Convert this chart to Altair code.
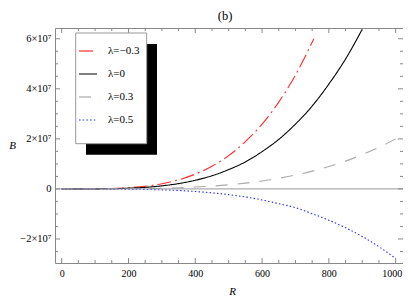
import altair as alt
import pandas as pd

# ---- data ----
names = ["λ=−0.3", "λ=0", "λ=0.3", "λ=0.5"]

R_red = [0, 50, 100, 150, 200, 250, 300, 350, 400, 450, 500, 550, 600, 650, 700, 755]
B_red = [0, 3.0e3, 3.7e4, 1.64e5, 4.7e5, 1.06e6, 2.07e6, 3.63e6, 5.9e6, 9.07e6,
         1.33e7, 1.89e7, 2.59e7, 3.47e7, 4.55e7, 6.0e7]

R_black = [0, 50, 100, 150, 200, 250, 300, 350, 400, 450, 500, 550, 600, 650, 700, 750, 800, 850, 900]
B_black = [0, 1.9e3, 2.35e4, 1.0e5, 2.85e5, 6.3e5, 1.23e6, 2.13e6, 3.46e6, 5.26e6,
           7.72e6, 1.08e7, 1.49e7, 1.98e7, 2.59e7, 3.31e7, 4.19e7, 5.19e7, 6.38e7]

R_gray = [0, 50, 100, 150, 200, 250, 300, 350, 400, 450, 500, 550, 600, 650, 700, 750, 800, 850, 900, 950, 1000]
B_gray = [0, 4e2, 5.0e3, 2.2e4, 6.1e4, 1.36e5, 2.6e5, 4.6e5, 7.4e5, 1.13e6, 1.65e6,
          2.32e6, 3.18e6, 4.24e6, 5.55e6, 7.1e6, 8.96e6, 1.11e7, 1.37e7, 1.66e7, 2.0e7]

R_blue = [0, 50, 100, 150, 200, 250, 300, 350, 400, 450, 500, 550, 600, 650, 700, 750, 800, 850, 900, 950, 1000]
B_blue = [0, -6e2, -7e3, -3.0e4, -8.5e4, -1.9e5, -3.6e5, -6.3e5, -1.03e6, -1.57e6, -2.29e6,
          -3.23e6, -4.42e6, -5.9e6, -7.5e6, -9.9e6, -1.25e7, -1.55e7, -1.9e7, -2.31e7, -2.78e7]

x_major = [0, 200, 400, 600, 800, 1000]
x_minor = [50, 100, 150, 250, 300, 350, 450, 500, 550, 650, 700, 750, 850, 900, 950]
y_major = [-2e7, 0, 2e7, 4e7, 6e7]
y_minor = [-2.5e7, -1.5e7, -1e7, -5e6, 5e6, 1e7, 1.5e7, 2.5e7, 3e7, 3.5e7, 4.5e7, 5e7, 5.5e7]

panel_label = "(b)"

# ---- styling ----
colors = ["#ff2a2a", "#000000", "#aaaaaa", "#2a2aff"]
dashes = [[14, 4, 2, 4], [1, 0], [12, 10], [1.5, 2.2]]
frame_c = "#888888"
W, H = 348, 235
SERIF = "Liberation Serif, Tinos, 'Times New Roman', serif"

rows = []
for nm, rs, bs in zip(names, [R_red, R_black, R_gray, R_blue], [B_red, B_black, B_gray, B_blue]):
    for r, b in zip(rs, bs):
        rows.append({"series": nm, "R": r, "B": b})
df = pd.DataFrame(rows)

xs = alt.Scale(domain=[-20, 1022], nice=False, zero=False)
ys = alt.Scale(domain=[-2.96e7, 6.43e7], nice=False, zero=False)

y_label_expr = ("datum.value == 0 ? '0' : (datum.value < 0 ? '−' : '') + "
                "format(abs(datum.value) / 1e7, 'd') + '×10⁷'")

x_axis = alt.Axis(
    values=x_major, format="d", title="R", domain=False, ticks=False, grid=False,
    labelFont=SERIF, labelFontSize=10, labelPadding=5, labelColor="black",
    labelOffset={"condition": {"test": "datum.value == 1000", "value": -4}, "value": 0},
    titleFont=SERIF, titleFontSize=11, titleFontStyle="italic", titleFontWeight="normal",
    titleColor="black", titleX=177, titleY=28, titleBaseline="middle", titleAlign="center")
y_axis = alt.Axis(
    values=y_major, title="B", domain=False, ticks=False, grid=False,
    labelExpr=y_label_expr, labelFont=SERIF, labelFontSize=10.5, labelPadding=4,
    labelColor="black",
    titleFont=SERIF, titleFontSize=11, titleFontStyle="italic", titleFontWeight="normal",
    titleColor="black", titleAngle=0, titleX=-43, titleY=117.5, titleBaseline="middle",
    titleAlign="center")

leg = alt.Legend(
    title=None, orient="none", legendX=23, legendY=13, symbolType="stroke",
    symbolSize=324, symbolStrokeWidth=1.2, labelFont=SERIF, labelFontSize=11,
    labelOffset=10, rowPadding=8, padding=0, labelColor="black",
)

lines = alt.Chart(df).mark_line(strokeWidth=1.1, interpolate="monotone").encode(
    x=alt.X("R:Q", scale=xs, axis=x_axis),
    y=alt.Y("B:Q", scale=ys, axis=y_axis),
    color=alt.Color("series:N", scale=alt.Scale(domain=names, range=colors), legend=leg),
    strokeDash=alt.StrokeDash("series:N", scale=alt.Scale(domain=names, range=dashes), legend=leg),
)

zero = alt.Chart(pd.DataFrame({"z": [0]})).mark_rule(color="#999999", strokeWidth=1).encode(
    y=alt.Y("z:Q", scale=ys, axis=y_axis)
)


def xticks(vals, L):
    d = pd.DataFrame({"v": vals})
    bot = alt.Chart(d).mark_rule(color=frame_c, strokeWidth=1).encode(
        x=alt.X("v:Q", scale=xs, axis=x_axis), y=alt.value(H), y2=alt.value(H - L))
    top = alt.Chart(d).mark_rule(color=frame_c, strokeWidth=1).encode(
        x=alt.X("v:Q", scale=xs, axis=x_axis), y=alt.value(0), y2=alt.value(L))
    return [bot, top]


def yticks(vals, L):
    d = pd.DataFrame({"v": vals})
    lft = alt.Chart(d).mark_rule(color=frame_c, strokeWidth=1).encode(
        y=alt.Y("v:Q", scale=ys, axis=y_axis), x=alt.value(0), x2=alt.value(L))
    rgt = alt.Chart(d).mark_rule(color=frame_c, strokeWidth=1).encode(
        y=alt.Y("v:Q", scale=ys, axis=y_axis), x=alt.value(W), x2=alt.value(W - L))
    return [lft, rgt]


one = pd.DataFrame({"a": [0]})
shadow = alt.Chart(one).mark_rect(color="black").encode(
    x=alt.value(31), x2=alt.value(102), y=alt.value(16), y2=alt.value(126.7))
box = alt.Chart(one).mark_rect(fill="white", stroke="#999999", strokeWidth=1).encode(
    x=alt.value(20.7), x2=alt.value(91.7), y=alt.value(5), y2=alt.value(115.7))
title_txt = alt.Chart(one).mark_text(
    text=panel_label, font=SERIF, fontSize=12.5, color="black", align="center", baseline="middle"
).encode(x=alt.value(170), y=alt.value(-12.5))

layers = [lines, zero] + xticks(x_major, 5) + xticks(x_minor, 3) + yticks(y_major, 5) + yticks(y_minor, 3) \
    + [shadow, box, title_txt]

chart = alt.layer(*layers).properties(
    width=W, height=H,
    autosize=alt.AutoSizeParams(type="none"),
    padding={"left": 47, "top": 20, "right": 0, "bottom": 34},
).configure_view(stroke=frame_c, strokeWidth=1)

chart.save("out.html", embed_options={"renderer": "svg", "actions": False})
